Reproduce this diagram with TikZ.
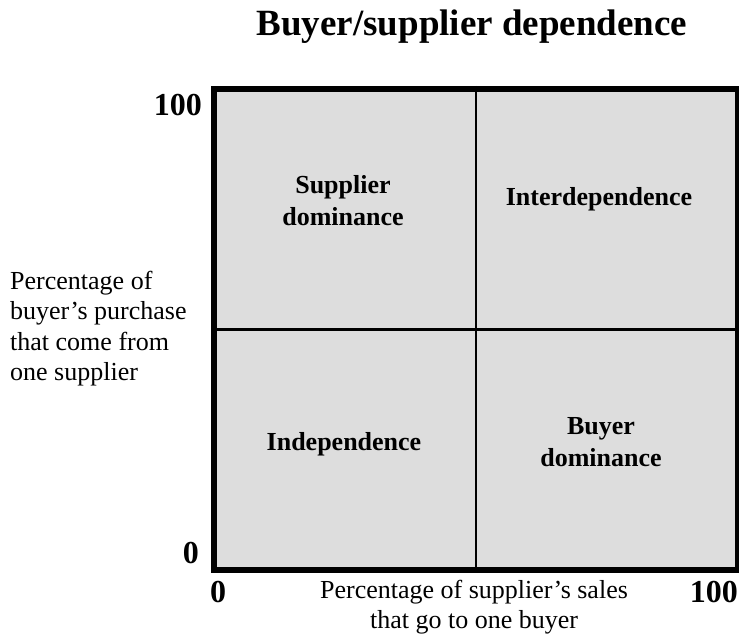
\documentclass[tikz,border=0pt]{standalone}
\usepackage{fontspec}
\setmainfont{Liberation Serif}
\begin{document}
\begin{tikzpicture}[x=1pt,y=-1pt,
  quadlabel/.style={inner sep=0pt, align=center, font=\fontsize{26}{32}\selectfont\bfseries},
  axislabel/.style={inner sep=0pt, font=\fontsize{26}{30.3}\selectfont},
  ticklabel/.style={inner sep=0pt, font=\fontsize{32}{36}\selectfont\bfseries},
  divider/.style={line width=2.5pt, black}
]
\useasboundingbox (0,0) rectangle (739,639);

% title
\node[inner sep=0pt, anchor=base, font=\fontsize{37}{40}\selectfont\bfseries] (title) at (472,36) {Buyer/supplier dependence};

% the 2x2 grid
\node[draw=black, line width=6pt, fill={rgb,255:red,221;green,221;blue,221},
      minimum width=524pt, minimum height=481pt, inner sep=0pt, anchor=north west] (grid) at (211,86) {};
\draw[divider] (grid.north) -- (grid.south);
\draw[divider] (grid.west) -- (grid.east);

% quadrant labels
\node[quadlabel, anchor=north] (supdom) at (343,175) {Supplier\\dominance};
\node[quadlabel, anchor=base] (inter) at (599,206) {Interdependence};
\node[quadlabel, anchor=base] (indep) at (344,450) {Independence};
\node[quadlabel, anchor=north] (buydom) at (601,417) {Buyer\\dominance};

% axis ends
\node[ticklabel, anchor=base east] (ytop) at (202,116) {100};
\node[ticklabel, anchor=base east] (ybot) at (199,563) {0};
\node[ticklabel, anchor=base west] (xleft) at (210,602) {0};
\node[ticklabel, anchor=base east] (xright) at (738,602) {100};

% axis titles
\node[axislabel, anchor=north west, align=left] (ytitle) at (10,271)
  {Percentage of\\buyer’s purchase\\that come from\\one supplier};
\node[axislabel, anchor=north, align=center, font=\fontsize{26}{29.5}\selectfont] (xtitle) at (474,580)
  {Percentage of supplier’s sales\\that go to one buyer};
\end{tikzpicture}
\end{document}
